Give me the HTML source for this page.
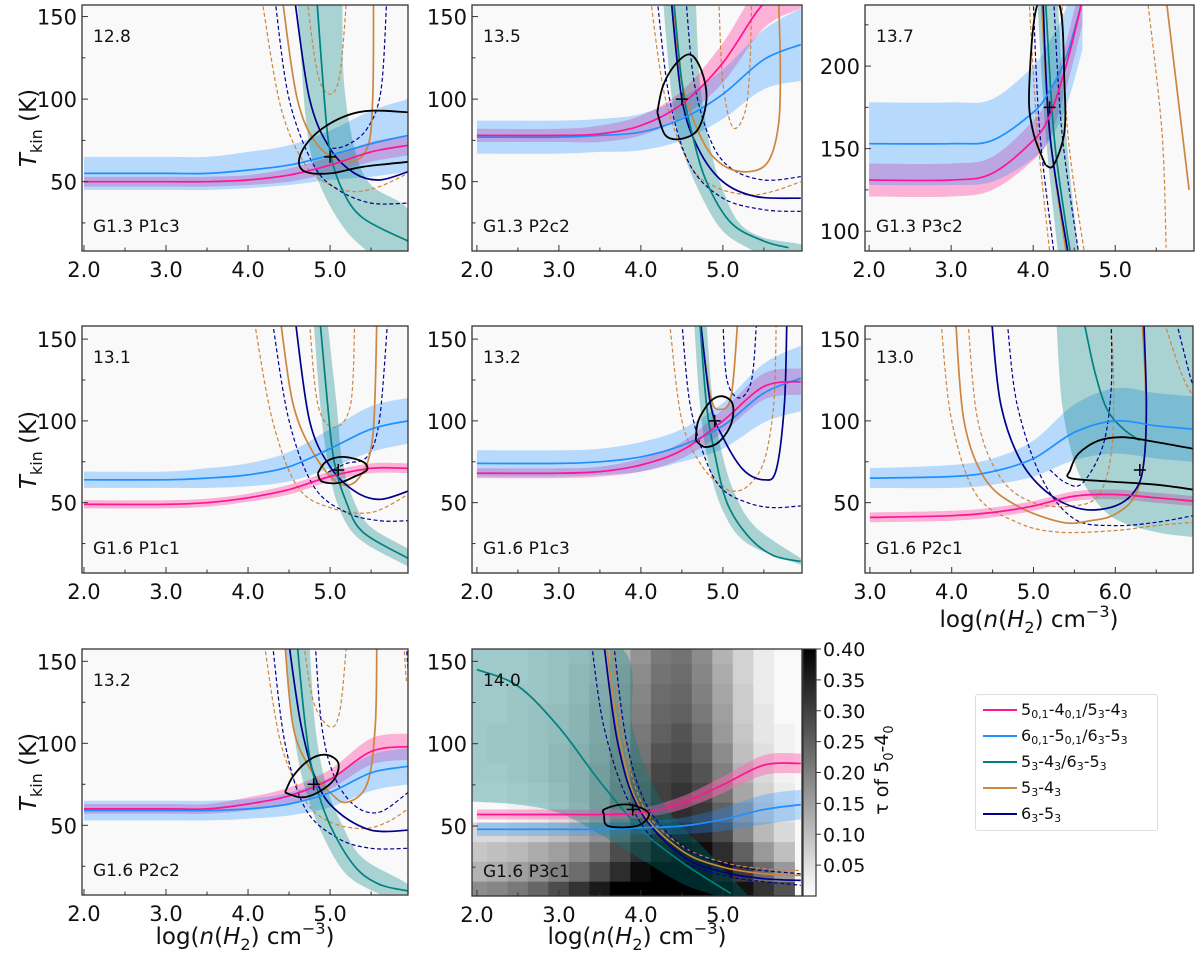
<!DOCTYPE html>
<html><head><meta charset="utf-8">
<style>
html,body{margin:0;padding:0;background:#fff;}
body{width:1200px;height:960px;position:relative;overflow:hidden;font-family:"DejaVu Sans","Liberation Sans",sans-serif;}
svg{position:absolute;left:0;top:0;font-family:"DejaVu Sans","Liberation Sans",sans-serif;}
#legend{position:absolute;left:975px;top:694px;width:183px;height:137px;border:1px solid #ddd;border-radius:3px;background:#fff;box-sizing:border-box;font-size:16px;}
.le{position:absolute;left:0;height:26px;width:183px;}
.le .sw{position:absolute;left:7px;top:12px;width:34px;height:2px;}
.le .tx{position:absolute;left:45px;top:0;line-height:26px;white-space:nowrap;color:#111;}
.le sub{font-size:11px;vertical-align:-3px;line-height:0;}
</style></head>
<body>
<svg id="chart" width="1200" height="960" viewBox="0 0 1200 960"></svg>
<div id="legend">
 <div class="le" style="top:2px"><div class="sw" style="background:#ff1493"></div><div class="tx">5<sub>0,1</sub>-4<sub>0,1</sub>/5<sub>3</sub>-4<sub>3</sub></div></div>
 <div class="le" style="top:28px"><div class="sw" style="background:#1e90ff"></div><div class="tx">6<sub>0,1</sub>-5<sub>0,1</sub>/6<sub>3</sub>-5<sub>3</sub></div></div>
 <div class="le" style="top:54px"><div class="sw" style="background:#008080"></div><div class="tx">5<sub>3</sub>-4<sub>3</sub>/6<sub>3</sub>-5<sub>3</sub></div></div>
 <div class="le" style="top:80px"><div class="sw" style="background:#cd853f"></div><div class="tx">5<sub>3</sub>-4<sub>3</sub></div></div>
 <div class="le" style="top:106px"><div class="sw" style="background:#00008b"></div><div class="tx">6<sub>3</sub>-5<sub>3</sub></div></div>
</div>
<script>
// ---------------- DATA ----------------
const XS_A = [2,3,3.5,4,4.5,5,5.5,5.95];
const XS_P3 = [2,3,3.5,4,4.2,4.4,4.6];
const XS_P6 = [3,4,4.5,5,5.5,6,6.5,6.95];

// Panel 1: G1.3 P1c3
const P1_PINK=[50,50,50,51,54,60,68,72], P1_PINK_HW=[3,3,3,3,4,5,6,6];
const P1_BLUE=[55,55,55,57,60,66,73,78], P1_BLUE_HW=[10,10,10,11,12,15,20,22];
const P1_TEAL=[[4.84,160],[4.93,100],[5.0,68],[5.15,45],[5.4,28],[5.95,14]];
const P1_TEAL_A=[[4.6,160],[4.7,90],[4.8,60],[4.95,40],[5.2,20],[5.45,8]];
const P1_TEAL_B=[[5.95,8],[5.95,33],[5.5,48],[5.3,70],[5.17,110],[5.15,160]];
const P1_OR=[[[4.42,160],[4.6,100],[4.85,72],[5.2,62],[5.45,70],[5.52,100],[5.53,160]]];
const P1_OR_D=[[[4.72,160],[4.85,115],[5.0,103],[5.12,115],[5.2,160]],[[4.17,160],[4.4,95],[4.7,60],[5.0,48],[5.3,44],[5.6,47],[5.95,55]]];
const P1_NV=[[[4.57,160],[4.75,100],[5.0,70],[5.3,55],[5.6,51],[5.95,56]]];
const P1_NV_D=[[[4.33,160],[4.5,100],[4.8,60],[5.1,45],[5.5,37],[5.95,37]],[[5.69,160],[5.62,105],[5.45,82],[5.2,72],[5.0,70]]];
const P1_CONT=[[5.95,92],[5.5,93],[5.2,90],[4.9,82],[4.7,72],[4.62,62],[4.7,56],[5.0,55],[5.4,59],[5.95,62]];
const P1_BEST=[5.0,65];

// Panel 2: G1.3 P2c2
const P2_PINK=[78,78,79,84,97,122,158,170], P2_PINK_HW=[4,4,5,6,8,12,15,15];
const P2_BLUE=[77,77,78,80,88,103,124,133], P2_BLUE_HW=[10,10,10,11,13,15,18,22];
const P2_TEAL=[[4.4,160],[4.5,110],[4.62,80],[4.8,50],[5.1,25],[5.5,14],[5.8,10]];
const P2_TEAL_A=[[4.27,160],[4.38,100],[4.5,70],[4.75,40],[5.0,20],[5.3,10],[5.4,8]];
const P2_TEAL_B=[[5.95,8],[5.95,12],[5.5,16],[5.2,25],[5.0,45],[4.85,70],[4.72,110],[4.67,160]];
const P2_OR=[[[4.38,160],[4.5,110],[4.75,75],[5.0,60],[5.3,56],[5.55,62],[5.68,85],[5.7,120],[5.68,160]]];
const P2_OR_D=[[[4.95,160],[5.0,110],[5.12,83],[5.27,92],[5.33,120],[5.35,160]],[[4.12,160],[4.3,100],[4.6,60],[4.9,47],[5.3,42],[5.6,44],[5.95,50]]];
const P2_NV=[[[4.37,160],[4.5,100],[4.7,70],[5.0,50],[5.4,41],[5.95,40]]];
const P2_NV_D=[[[4.2,160],[4.35,100],[4.6,60],[5.0,40],[5.5,33],[5.95,32]],[[4.55,160],[4.65,110],[4.85,75],[5.1,58],[5.5,51],[5.95,53]]];
const P2_CONT=[[4.2,92],[4.27,108],[4.42,121],[4.6,127],[4.74,117],[4.8,100],[4.7,82],[4.5,76],[4.3,78],[4.2,92]];
const P2_BEST=[4.5,100];

// Panel 3: G1.3 P3c2
const P3_PINK=[131,131,135,155,170,200,240], P3_PINK_HW=[10,10,10,12,13,14,15];
const P3_BLUE=[153,153,155,172,185,205,240], P3_BLUE_HW=[25,25,25,28,30,30,30];
const P3_TEAL=[[4.15,240],[4.25,160],[4.38,110],[4.45,88]];
const P3_TEAL_A=[[4.05,240],[4.15,160],[4.3,88]];
const P3_TEAL_B=[[4.55,88],[4.4,160],[4.3,240]];
const P3_OR=[[[4.1,240],[4.2,160],[4.4,88]],[[5.63,237],[5.9,125]]];
const P3_OR_D=[[[3.95,240],[4.05,160],[4.2,88]],[[4.35,240],[4.42,160],[4.62,88]],[[5.4,237],[5.57,160],[5.62,90]]];
const P3_NV=[[[4.12,240],[4.2,160],[4.42,88]]];
const P3_NV_D=[[[4.0,240],[4.08,160],[4.25,88]],[[4.25,240],[4.35,160],[4.55,88]]];
const P3_CONT=[[4.15,140],[4.0,160],[3.95,185],[4.05,237],[4.32,237],[4.38,190],[4.38,160],[4.25,140],[4.15,140]];
const P3_BEST=[4.2,175];

// Panel 4: G1.6 P1c1
const P4_PINK=[49,49,50,53,58,66,71,71], P4_PINK_HW=[2.5,2.5,2.5,2.5,3,3,3,3];
const P4_BLUE=[64,64,65,67,72,83,95,100], P4_BLUE_HW=[5,5,6,7,9,12,14,14];
const P4_TEAL=[[4.88,160],[4.97,110],[5.05,75],[5.2,50],[5.4,32],[5.95,16]];
const P4_TEAL_A=[[4.8,160],[4.88,110],[4.97,75],[5.1,48],[5.35,28],[5.95,11]];
const P4_TEAL_B=[[5.95,22],[5.5,35],[5.3,50],[5.15,75],[5.08,110],[4.97,160]];
const P4_OR=[[[4.4,160],[4.55,110],[4.8,80],[5.1,62],[5.35,65],[5.52,90],[5.57,160]]];
const P4_OR_D=[[[4.75,160],[4.85,110],[5.05,96],[5.25,110],[5.3,160]],[[4.08,160],[4.3,100],[4.6,60],[5.0,47],[5.5,44],[5.95,55]]];
const P4_NV=[[[4.58,160],[4.75,100],[5.0,72],[5.3,57],[5.6,52],[5.95,57]]];
const P4_NV_D=[[[4.3,160],[4.5,100],[4.8,60],[5.2,44],[5.6,39],[5.95,39]],[[5.7,160],[5.6,100],[5.45,78],[5.2,74],[4.95,68]]];
const P4_CONT=[[4.85,68],[4.95,75],[5.15,78],[5.4,75],[5.45,70],[5.3,66],[5.1,62],[4.9,63],[4.85,68]];
const P4_BEST=[5.1,70];

// Panel 5: G1.6 P1c3
const P5_PINK=[68,68,69,73,82,100,121,124], P5_PINK_HW=[3,3,3,4,5,7,8,8];
const P5_BLUE=[74,74,75,78,85,97,117,126], P5_BLUE_HW=[8,8,8,9,10,14,18,20];
const P5_TEAL=[[4.72,160],[4.8,110],[4.9,80],[5.05,50],[5.3,30],[5.6,18],[5.95,14]];
const P5_TEAL_A=[[4.65,160],[4.72,110],[4.82,75],[5.0,45],[5.3,25],[5.95,12]];
const P5_TEAL_B=[[5.95,16],[5.4,35],[5.15,55],[5.0,78],[4.88,110],[4.8,160]];
const P5_OR=[[[4.72,160],[4.85,115],[4.96,107],[5.1,115],[5.18,160]]];
const P5_OR_D=[[[4.35,160],[4.5,100],[4.75,72],[5.0,60],[5.12,57],[5.3,60],[5.5,75],[5.62,110],[5.65,160]]];
const P5_NV=[[[4.73,160],[4.85,110],[5.0,90],[5.25,70],[5.5,64],[5.65,70],[5.75,110],[5.78,160]]];
const P5_NV_D=[[[4.5,160],[4.6,110],[4.8,75],[5.0,58],[5.3,50],[5.6,47],[5.95,48]],[[5.0,160],[5.05,125],[5.2,114],[5.35,125],[5.41,160]]];
const P5_CONT=[[4.67,88],[4.7,100],[4.85,112],[5.0,115],[5.12,110],[5.1,98],[4.95,87],[4.78,84],[4.67,88]];
const P5_BEST=[4.9,100];

// Panel 6: G1.6 P2c1
const P6_PINK=[41,42,44,48,54,55,53,51], P6_PINK_HW=[3,3,3,3,3,3,3,3];
const P6_BLUE=[65,66,69,77,93,100,97,95], P6_BLUE_HW=[6,7,8,11,17,20,20,20];
const P6_TEAL=[[5.62,160],[5.75,130],[5.9,107],[6.1,95],[6.3,88]];
const P6_TEAL_A=[[5.28,160],[5.35,110],[5.5,75],[5.7,55],[6.0,40],[6.5,32],[6.95,29]];
const P6_TEAL_B=[[6.95,160]];
const P6_OR=[[[4.05,160],[4.15,100],[4.4,65],[4.8,48],[5.35,38],[5.7,39],[6.0,43],[6.25,55],[6.36,80],[6.37,120],[6.33,160]]];
const P6_OR_D=[[[3.87,160],[4.0,100],[4.3,55],[4.8,38],[5.3,32],[6.0,33],[6.5,36],[6.95,38]],[[4.2,160],[4.32,100],[4.6,65],[5.0,50],[5.5,48],[5.8,55],[5.95,80],[5.98,120],[5.95,160]],[[6.6,160],[6.8,130],[6.95,115]]];
const P6_NV=[[[4.49,160],[4.6,110],[4.85,75],[5.2,55],[5.6,46],[6.0,48],[6.25,58],[6.35,75],[6.38,110],[6.35,160]]];
const P6_NV_D=[[[4.68,160],[4.8,110],[5.1,65],[5.5,40],[6.0,36],[6.5,38],[6.95,42]],[[5.95,160],[5.95,120],[5.85,85],[5.6,62],[5.4,62],[5.2,70]],[[6.75,160],[6.9,130],[6.95,122]]];
const P6_CONT=[[6.95,83],[6.5,87],[6.1,90],[5.8,88],[5.55,80],[5.45,70],[5.45,65],[5.9,63],[6.5,61],[6.95,58]];
const P6_BEST=[6.3,70];

// Panel 7: G1.6 P2c2
const P7_PINK=[60,60,60,63,68,78,95,98], P7_PINK_HW=[3,3,3,4,5,6,8,8];
const P7_BLUE=[59,59,59,60,63,70,82,86], P7_BLUE_HW=[6,6,6,6,7,9,11,11];
const P7_TEAL=[[4.6,160],[4.7,110],[4.8,80],[5.0,50],[5.3,25],[5.6,14],[5.95,10]];
const P7_TEAL_A=[[4.45,160],[4.55,110],[4.68,75],[4.9,45],[5.2,20],[5.6,8]];
const P7_TEAL_B=[[5.95,8],[5.95,14],[5.4,30],[5.15,50],[4.95,75],[4.82,110],[4.75,160]];
const P7_OR=[[[4.45,160],[4.55,110],[4.75,85],[5.0,70],[5.2,64],[5.45,75],[5.55,110],[5.57,160]]];
const P7_OR_D=[[[4.68,160],[4.8,125],[5.0,110],[5.12,120],[5.2,160]],[[4.2,160],[4.4,100],[4.7,65],[5.0,52],[5.4,48],[5.7,52],[5.95,60]],[[5.9,160],[5.93,138]]];
const P7_NV=[[[4.5,160],[4.65,110],[4.85,75],[5.1,58],[5.5,47],[5.95,47]]];
const P7_NV_D=[[[4.3,160],[4.45,100],[4.7,60],[5.1,42],[5.5,36],[5.95,36]],[[4.82,160],[4.9,110],[5.05,80],[5.3,62],[5.6,58],[5.95,70]],[[5.93,160],[5.95,145]]];
const P7_CONT=[[4.45,70],[4.55,80],[4.75,90],[4.95,93],[5.1,88],[5.05,78],[4.85,70],[4.65,67],[4.45,70]];
const P7_BEST=[4.8,75];

// Panel 8: G1.6 P3c1
const P8_PINK=[57,57,57,58,64,75,87,88], P8_PINK_HW=[3,3,3,3,4,5,6,6];
const P8_BLUE=[48,48,48,49,50,54,60,63], P8_BLUE_HW=[4,4,4,4,5,7,9,9];
const P8_TEAL=[[2.0,145],[2.5,135],[3.0,110],[3.5,77],[4.0,48],[4.5,28],[5.0,12],[5.1,9]];
const P8_TEAL_A=[[1.9,160],[3.7,160],[3.9,110],[4.1,80],[4.4,55],[4.8,35],[5.3,8]];
const P8_TEAL_B=[[4.9,8],[4.5,15],[4.0,30],[3.5,45],[3.0,58],[2.5,63],[1.9,65]];
const P8_OR=[[[3.58,160],[3.75,100],[4.0,60],[4.5,35],[5.0,25],[5.5,21],[5.95,20]]];
const P8_OR_D=[[[3.64,160],[3.8,100],[4.05,60],[4.5,38],[5.0,28],[5.5,24],[5.95,23]]];
const P8_NV=[[[3.55,160],[3.72,100],[3.98,60],[4.5,32],[5.0,22],[5.5,18],[5.95,17]]];
const P8_NV_D=[[[3.4,160],[3.55,110],[3.85,65],[4.3,35],[5.0,20],[5.95,14]],[[3.67,160],[3.83,100],[4.1,60],[4.6,35],[5.2,25],[5.95,21]]];
const P8_CONT=[[3.55,57],[3.6,50],[3.95,50],[4.1,57],[3.95,62],[3.75,63],[3.55,60],[3.55,57]];
const P8_BEST=[3.9,60];

// heatmap (tau of 5_0-4_0) for panel 8
const HEAT_X=[2.0,2.25,2.5,2.75,3.0,3.25,3.5,3.75,4.0,4.25,4.5,4.75,5.0,5.25,5.5,5.75];
const HEAT_T=[154,142,130,118,106,94,82,70,58,46,34,22,10];
const HEAT_V=[
[.03,.03,.03,.04,.05,.06,.08,.12,.17,.21,.22,.18,.12,.07,.03,.01],
[.03,.03,.03,.04,.05,.07,.09,.13,.18,.22,.23,.19,.13,.07,.03,.01],
[.03,.03,.04,.04,.05,.07,.10,.14,.19,.23,.24,.20,.14,.08,.03,.01],
[.03,.03,.04,.05,.06,.08,.11,.15,.20,.24,.25,.21,.15,.08,.04,.01],
[.03,.04,.04,.05,.06,.08,.11,.16,.21,.25,.27,.23,.16,.09,.04,.02],
[.03,.04,.04,.05,.07,.09,.12,.17,.22,.27,.28,.25,.18,.10,.05,.02],
[.03,.03,.04,.05,.07,.09,.13,.18,.24,.29,.30,.27,.20,.12,.06,.02],
[.02,.02,.03,.04,.06,.09,.13,.19,.25,.30,.32,.29,.22,.14,.07,.03],
[.01,.01,.02,.03,.05,.08,.13,.19,.26,.31,.33,.31,.25,.16,.08,.04],
[.06,.06,.07,.08,.10,.13,.17,.23,.29,.34,.36,.34,.28,.19,.11,.06],
[.09,.10,.11,.13,.15,.18,.22,.28,.33,.37,.39,.38,.33,.25,.16,.10],
[.12,.13,.15,.17,.20,.23,.28,.33,.38,.40,.40,.40,.37,.31,.23,.16],
[.18,.19,.21,.24,.28,.32,.36,.40,.40,.40,.40,.40,.40,.37,.32,.27]];
const CBAR_TICKS=[0.05,0.10,0.15,0.20,0.25,0.30,0.35,0.40];

const VALUES=["12.8","13.5","13.7","13.1","13.2","13.0","13.2","14.0"];
const NAMES=["G1.3 P1c3","G1.3 P2c2","G1.3 P3c2","G1.6 P1c1","G1.6 P1c3","G1.6 P2c1","G1.6 P2c2","G1.6 P3c1"];
const XTICKS_A=[2,3,4,5], XTICKS_B=[3,4,5,6];
const YTICKS_A=[50,100,150], YTICKS_B=[100,150,200];

// ---------------- LAYOUT ----------------
const GEOM=[
 {l:82,r:408,t:5,b:251,x0:1.976,x1:5.95,y0:8,y1:157},
 {l:472,r:802,t:5,b:251,x0:1.94,x1:5.965,y0:8,y1:157},
 {l:865,r:1194,t:5,b:251,x0:1.95,x1:5.96,y0:88,y1:237},
 {l:82,r:408,t:326,b:573,x0:1.976,x1:5.95,y0:7,y1:158},
 {l:472,r:802,t:326,b:573,x0:1.94,x1:5.965,y0:7,y1:158},
 {l:865,r:1193,t:326,b:573,x0:2.94,x1:6.95,y0:7,y1:158},
 {l:82,r:408,t:649,b:895,x0:1.976,x1:5.95,y0:7.5,y1:157.5},
 {l:472,r:802,t:649,b:896,x0:1.94,x1:5.965,y0:7.5,y1:157.5}];

const DATA=[
 {xs:XS_A,pink:P1_PINK,phw:P1_PINK_HW,blue:P1_BLUE,bhw:P1_BLUE_HW,teal:P1_TEAL,ta:P1_TEAL_A,tb:P1_TEAL_B,or:P1_OR,ord:P1_OR_D,nv:P1_NV,nvd:P1_NV_D,cont:P1_CONT,best:P1_BEST,xt:XTICKS_A,yt:YTICKS_A},
 {xs:XS_A,pink:P2_PINK,phw:P2_PINK_HW,blue:P2_BLUE,bhw:P2_BLUE_HW,teal:P2_TEAL,ta:P2_TEAL_A,tb:P2_TEAL_B,or:P2_OR,ord:P2_OR_D,nv:P2_NV,nvd:P2_NV_D,cont:P2_CONT,best:P2_BEST,xt:XTICKS_A,yt:YTICKS_A},
 {xs:XS_P3,pink:P3_PINK,phw:P3_PINK_HW,blue:P3_BLUE,bhw:P3_BLUE_HW,teal:P3_TEAL,ta:P3_TEAL_A,tb:P3_TEAL_B,or:P3_OR,ord:P3_OR_D,nv:P3_NV,nvd:P3_NV_D,cont:P3_CONT,best:P3_BEST,xt:XTICKS_A,yt:YTICKS_B},
 {xs:XS_A,pink:P4_PINK,phw:P4_PINK_HW,blue:P4_BLUE,bhw:P4_BLUE_HW,teal:P4_TEAL,ta:P4_TEAL_A,tb:P4_TEAL_B,or:P4_OR,ord:P4_OR_D,nv:P4_NV,nvd:P4_NV_D,cont:P4_CONT,best:P4_BEST,xt:XTICKS_A,yt:YTICKS_A},
 {xs:XS_A,pink:P5_PINK,phw:P5_PINK_HW,blue:P5_BLUE,bhw:P5_BLUE_HW,teal:P5_TEAL,ta:P5_TEAL_A,tb:P5_TEAL_B,or:P5_OR,ord:P5_OR_D,nv:P5_NV,nvd:P5_NV_D,cont:P5_CONT,best:P5_BEST,xt:XTICKS_A,yt:YTICKS_A},
 {xs:XS_P6,pink:P6_PINK,phw:P6_PINK_HW,blue:P6_BLUE,bhw:P6_BLUE_HW,teal:P6_TEAL,ta:P6_TEAL_A,tb:P6_TEAL_B,or:P6_OR,ord:P6_OR_D,nv:P6_NV,nvd:P6_NV_D,cont:P6_CONT,best:P6_BEST,xt:XTICKS_B,yt:YTICKS_A},
 {xs:XS_A,pink:P7_PINK,phw:P7_PINK_HW,blue:P7_BLUE,bhw:P7_BLUE_HW,teal:P7_TEAL,ta:P7_TEAL_A,tb:P7_TEAL_B,or:P7_OR,ord:P7_OR_D,nv:P7_NV,nvd:P7_NV_D,cont:P7_CONT,best:P7_BEST,xt:XTICKS_A,yt:YTICKS_A},
 {xs:XS_A,pink:P8_PINK,phw:P8_PINK_HW,blue:P8_BLUE,bhw:P8_BLUE_HW,teal:P8_TEAL,ta:P8_TEAL_A,tb:P8_TEAL_B,or:P8_OR,ord:P8_OR_D,nv:P8_NV,nvd:P8_NV_D,cont:P8_CONT,best:P8_BEST,xt:XTICKS_A,yt:YTICKS_A}];

// ---------------- RENDER ----------------
const NS='http://www.w3.org/2000/svg';
const svg=document.getElementById('chart');
function mk(tag,parent){const e=document.createElementNS(NS,tag);parent.appendChild(e);return e;}
function setA(e,o){for(const k in o)e.setAttribute(k,o[k]);return e;}
function smooth(pts){
  if(pts.length<1)return '';
  let d='M'+pts[0][0].toFixed(1)+','+pts[0][1].toFixed(1);
  for(let i=0;i<pts.length-1;i++){
    const p0=pts[i-1]||pts[i],p1=pts[i],p2=pts[i+1],p3=pts[i+2]||pts[i+1];
    const c1=[p1[0]+(p2[0]-p0[0])/6,p1[1]+(p2[1]-p0[1])/6];
    const c2=[p2[0]-(p3[0]-p1[0])/6,p2[1]-(p3[1]-p1[1])/6];
    d+='C'+c1[0].toFixed(1)+','+c1[1].toFixed(1)+' '+c2[0].toFixed(1)+','+c2[1].toFixed(1)+' '+p2[0].toFixed(1)+','+p2[1].toFixed(1);
  }
  return d;
}
const defs=mk('defs',svg);

GEOM.forEach((p,i)=>{
  const d=DATA[i];
  const sx=x=>p.l+(x-p.x0)/(p.x1-p.x0)*(p.r-p.l);
  const sy=y=>p.b-(y-p.y0)/(p.y1-p.y0)*(p.b-p.t);
  const P=pts=>pts.map(q=>[sx(q[0]),sy(q[1])]);
  const cp=setA(mk('clipPath',defs),{id:'clip'+i});
  setA(mk('rect',cp),{x:p.l,y:p.t,width:p.r-p.l,height:p.b-p.t});
  const panel=mk('g',svg);
  
  
  const g=setA(mk('g',panel),{'clip-path':'url(#clip'+i+')'});
  
  
  const bg=setA(mk('rect',g),{x:p.l,y:p.t,width:p.r-p.l,height:p.b-p.t,fill:'#f9f9f9'});
  
  
  if(i===7){
    HEAT_T.forEach((t,r)=>{HEAT_X.forEach((x,c)=>{
      const v=HEAT_V[r][c];const gv=Math.round(255*(1-Math.min(v,0.4)/0.4));
      const cell=setA(mk('rect',g),{x:sx(x-0.125)-0.3,y:sy(t+6)-0.3,width:sx(x+0.125)-sx(x-0.125)+0.6,height:sy(t-6)-sy(t+6)+0.6,fill:'rgb('+gv+','+gv+','+gv+')'});
      
      
    });});
  }
  function band(c,hw,fill,name){
    const up=d.xs.map((x,k)=>[sx(x),sy(c[k]+hw[k])]);
    const lo=d.xs.map((x,k)=>[sx(x),sy(c[k]-hw[k])]).reverse();
    const e=setA(mk('path',g),{d:smooth(up)+'L'+smooth(lo).slice(1)+'Z',fill:fill,stroke:'none'});
    
    
  }
  band(d.pink,d.phw,'rgba(255,105,180,0.5)','pink-band');
  band(d.blue,d.bhw,'rgba(30,144,255,0.3)','blue-band');
  const tb=setA(mk('path',g),{d:smooth(P(d.ta))+'L'+smooth(P(d.tb)).slice(1)+'Z',fill:'rgba(0,128,128,0.32)'});
  
  
  function line(pts,col,w,dash,name){
    const e=setA(mk('path',g),{d:smooth(P(pts)),fill:'none',stroke:col,'stroke-width':w});
    if(dash)e.setAttribute('stroke-dasharray',dash);
    
    
  }
  d.ord.forEach(c=>line(c,'#cd853f',1.2,'4,2.5','orange-dashed-contour'));
  d.nvd.forEach(c=>line(c,'#00008b',1.2,'4,2.5','navy-dashed-contour'));
  d.or.forEach(c=>line(c,'#cd853f',1.7,null,'orange-contour'));
  d.nv.forEach(c=>line(c,'#00008b',1.7,null,'navy-contour'));
  line(d.teal,'#008080',1.7,null,'teal-line');
  line(d.xs.map((x,k)=>[x,d.blue[k]]),'#1e90ff',1.7,null,'blue-line');
  line(d.xs.map((x,k)=>[x,d.pink[k]]),'#ff1493',1.7,null,'pink-line');
  const ct=setA(mk('path',g),{d:smooth(P(d.cont)),fill:'none',stroke:'#000','stroke-width':1.8,'stroke-linejoin':'round'});
  
  
  const bx=sx(d.best[0]),by=sy(d.best[1]);
  const mkp=setA(mk('path',g),{d:'M'+(bx-6)+','+by+'H'+(bx+6)+'M'+bx+','+(by-6)+'V'+(by+6),stroke:'#000','stroke-width':1.5});
  
  
  const fr=setA(mk('rect',panel),{x:p.l,y:p.t,width:p.r-p.l,height:p.b-p.t,fill:'none',stroke:'#333','stroke-width':1.3});
  
  
  for(let x=Math.ceil(p.x0*2)/2;x<=p.x1;x+=0.5){
    const major=Math.abs(x-Math.round(x))<1e-6;
    const tk=setA(mk('line',panel),{x1:sx(x),x2:sx(x),y1:p.b,y2:p.b-(major?6:3.5),stroke:'#333','stroke-width':1});
    
    
  }
  d.xt.forEach(x=>{
    const t=setA(mk('text',panel),{x:sx(x),y:p.b+26,'text-anchor':'middle','font-size':21,fill:'#111'});
    t.textContent=x.toFixed(1);
    
    
  });
  for(let y=Math.ceil(p.y0/25)*25;y<=p.y1;y+=25){
    const major=y%50===0;
    const tk=setA(mk('line',panel),{x1:p.l,x2:p.l+(major?6:3.5),y1:sy(y),y2:sy(y),stroke:'#333','stroke-width':1});
    
    
  }
  d.yt.forEach(y=>{
    const t=setA(mk('text',panel),{x:p.l-5,y:sy(y)+8,'text-anchor':'end','font-size':21,fill:'#111'});
    t.textContent=String(y);
    
    
  });
  const vt=setA(mk('text',panel),{x:p.l+11,y:p.t+37,'font-size':17,fill:'#111'});
  vt.textContent=VALUES[i];
  
  
  const nt=setA(mk('text',panel),{x:p.l+11,y:p.b-19,'font-size':17,fill:'#111'});
  nt.textContent=NAMES[i];
  
  
});

[128,450,772].forEach(cy=>{
  const t=setA(mk('text',svg),{x:0,y:0,transform:'translate(36,'+cy+') rotate(-90)','text-anchor':'middle','font-size':23,fill:'#111'});
  t.innerHTML='<tspan font-style="italic">T</tspan><tspan font-size="16" dy="6">kin</tspan><tspan dy="-6"> (K)</tspan>';
  
  
});
[[245,944],[637,944],[1029,627]].forEach(c=>{
  const t=setA(mk('text',svg),{x:c[0],y:c[1],'text-anchor':'middle','font-size':23,fill:'#111'});
  t.innerHTML='log(<tspan font-style="italic">n</tspan>(<tspan font-style="italic">H</tspan><tspan font-size="16" dy="6">2</tspan><tspan dy="-6">) cm</tspan><tspan font-size="16" dy="-10">−3</tspan><tspan dy="10">)</tspan>';
  
  
});
const cbG=mk('g',svg);


const lg=setA(mk('linearGradient',defs),{id:'cbgrad',x1:0,y1:1,x2:0,y2:0});
setA(mk('stop',lg),{offset:0,'stop-color':'#fff'});
setA(mk('stop',lg),{offset:1,'stop-color':'#000'});
const CB={l:803,r:816,t:649,b:896,v0:0,v1:0.40};
const cy=v=>CB.b-(v-CB.v0)/(CB.v1-CB.v0)*(CB.b-CB.t);
setA(mk('rect',cbG),{x:CB.l,y:CB.t,width:CB.r-CB.l,height:CB.b-CB.t,fill:'url(#cbgrad)',stroke:'#333','stroke-width':1.2});
CBAR_TICKS.forEach(v=>{
  const tk=setA(mk('line',cbG),{x1:CB.r,x2:CB.r+5,y1:cy(v),y2:cy(v),stroke:'#333'});
  
  
  const t=setA(mk('text',cbG),{x:CB.r+7,y:cy(v)+7,'font-size':19,fill:'#111'});
  t.textContent=v.toFixed(2);
  
  
});
const cbt=setA(mk('text',cbG),{x:0,y:0,transform:'translate(888,770) rotate(-90)','text-anchor':'middle','font-size':19,fill:'#111'});
cbt.innerHTML='τ of 5<tspan font-size="13" dy="5">0</tspan><tspan dy="-5">-4</tspan><tspan font-size="13" dy="5">0</tspan>';


</script>
</body></html>
